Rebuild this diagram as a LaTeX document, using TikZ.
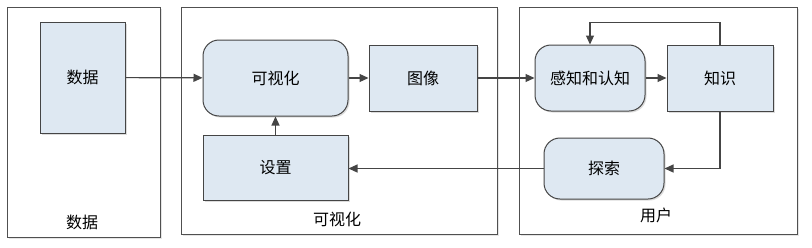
\documentclass[tikz,border=0pt]{standalone}
\usepackage{fontspec}
\setmainfont{Noto Sans CJK SC}
\usepackage{tikz}
\usetikzlibrary{arrows.meta, positioning, shadows}
\definecolor{boxfill}{HTML}{DEE8F2}
\definecolor{edgegray}{HTML}{454545}
\definecolor{panelgray}{HTML}{505050}

\begin{document}
\begin{tikzpicture}[
    x=1pt, y=-1pt,
    font=\fontsize{16}{19}\selectfont,
    block/.style={rectangle, draw=edgegray, fill=boxfill, line width=1pt, inner sep=0pt,
      drop shadow={shadow xshift=1.5pt, shadow yshift=-1.5pt, fill=gray!45, opacity=0.6}},
    rblock/.style={block, rounded corners=16pt},
    panel/.style={draw=panelgray, line width=0.9pt,
      drop shadow={shadow xshift=1.5pt, shadow yshift=-1.5pt, fill=gray!40, opacity=0.5}},
    arr/.style={-{Triangle[length=9pt, width=8pt]}, line width=1.2pt, draw=edgegray},
    node distance=20pt,
  ]
  \useasboundingbox (0,0) rectangle (812,247);

  % Panels
  \draw[panel, fill=white] (7,7) rectangle (160,237);
  \draw[panel, fill=white] (181,7) rectangle (497,234);
  \draw[panel, fill=white] (519,7) rectangle (797,234);
  \node (lbldata) at (82,222) {数据};
  \node (lblvis) at (337,219) {可视化};
  \node (lbluser) at (656,215) {用户};

  % Blocks
  \node[block, minimum width=85pt, minimum height=111pt] (data) at (82.5,77.5) {数据};
  \node[rblock, minimum width=145pt, minimum height=76pt] (vis) at (275.5,78) {可视化};
  \node[block, minimum width=108pt, minimum height=66pt, right=20pt of vis] (img) {图像};
  \node[block, minimum width=145pt, minimum height=65pt, below=18pt of vis] (setting) {设置};
  \node[rblock, minimum width=110pt, minimum height=66pt, right=57pt of img] (percept) {感知和认知};
  \node[block, minimum width=106pt, minimum height=66pt, right=21pt of percept] (know) {知识};
  \node[rblock, minimum width=120pt, minimum height=61pt] (explore) at (604,168.5) {探索};

  % Connectors
  \draw[arr] (data) -- (vis);
  \draw[arr] (vis) -- (img);
  \draw[arr] (img) -- (percept);
  \draw[arr] (percept) -- (know);
  \draw[arr] (setting) -- (vis);
  \draw[arr] (know.north) -- ++(0,-22) -| (percept.north);
  \draw[arr] (know.south) |- (explore.east);
  \draw[arr] (explore.west) -- (explore.west -| setting.east);
\end{tikzpicture}
\end{document}
